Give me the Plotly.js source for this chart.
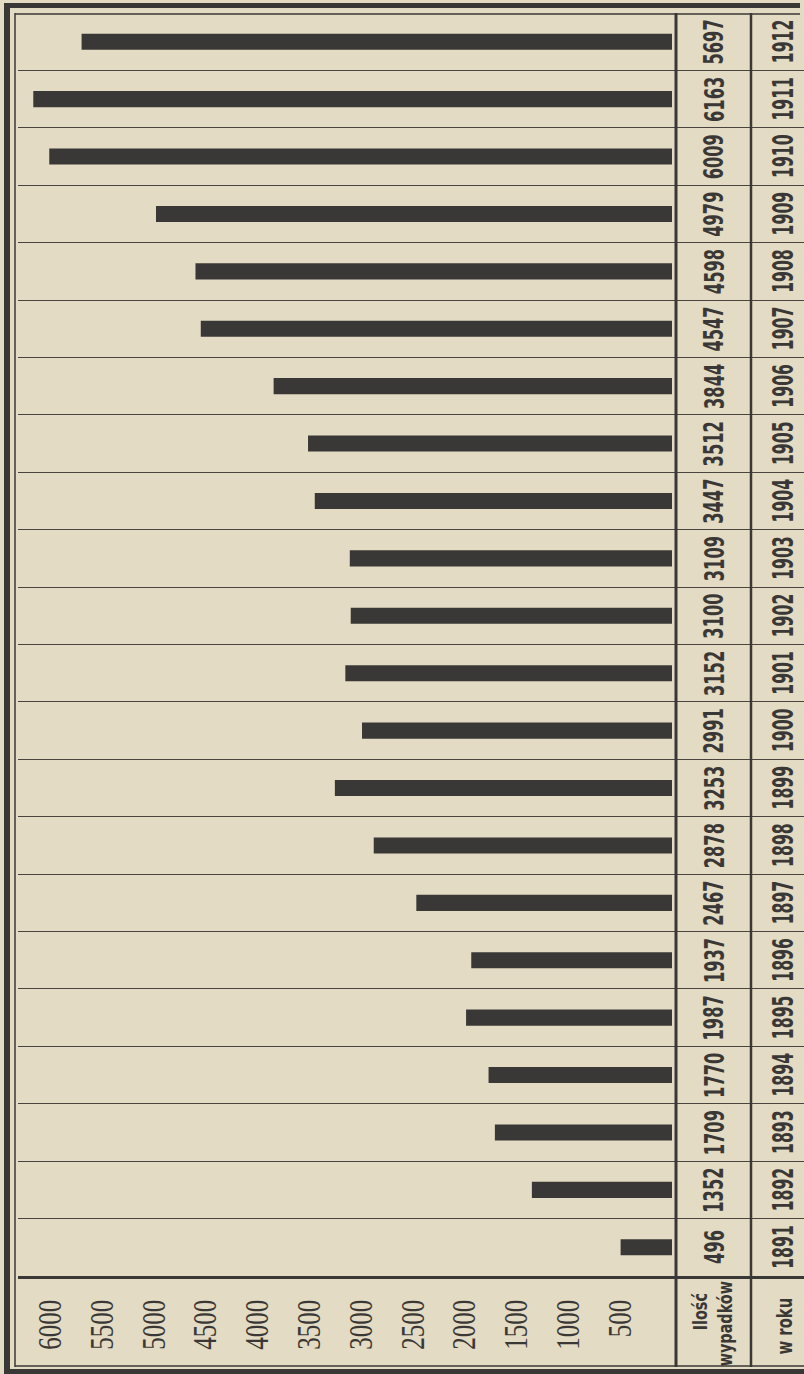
<!DOCTYPE html>
<html>
<head>
<meta charset="utf-8">
<script src="https://cdn.plot.ly/plotly-3.0.1.min.js"></script>
<style>html,body{margin:0;padding:0;background:#e4dcc4;}#chart{width:804px;height:1374px;}</style>
</head>
<body>
<div id="chart"></div>
<script>
// ---- data ----
const years = ['1891','1892','1893','1894','1895','1896','1897','1898','1899','1900','1901',
               '1902','1903','1904','1905','1906','1907','1908','1909','1910','1911','1912'];
const counts = [496,1352,1709,1770,1987,1937,2467,2878,3253,2991,3152,
                3100,3109,3447,3512,3844,4547,4598,4979,6009,6163,5697];
const tickValues = [500,1000,1500,2000,2500,3000,3500,4000,4500,5000,5500,6000];
const tickLabels = ['500','1000','1500','2000','2500','3000','3500','4000','4500','5000','5500','6000'];
const countHeader = ['Ilość', 'wypadków'];
const yearHeader = 'w roku';

// ---- layout geometry (pixels) ----
const W = 804, H = 1374;
const L = 18, R = 804, T = 13, B = 1276;
const px = x => (x - L) / (R - L);
const py = y => (B - y) / (B - T);
const zeroPx = 672, unitPx = 570 / 5500;
const xLeft = (zeroPx - L) / unitPx, xRight = -(R - zeroPx) / unitPx;

const ink = '#3a3836';
const paper = '#e3dbc3';
const narrow = '"DejaVu Sans Condensed", "Liberation Sans Narrow", sans-serif';

const trace = {
  type: 'bar', orientation: 'h',
  x: counts, y: years,
  marker: {color: ink, line: {width: 0}},
  hoverinfo: 'x+y'
};

const annotations = [];
const squeeze = [];   // horizontal compression of each annotation's text (condensed type)
function addNote(a, s) { annotations.push(a); squeeze.push(s); }
years.forEach((yr, i) => {
  addNote({xref: 'paper', yref: 'y', x: px(714), y: i, text: String(counts[i]),
    showarrow: false, textangle: -90, xanchor: 'center', yanchor: 'middle',
    font: {family: narrow, size: 27, color: ink, weight: 'bold'}}, 0.67);
  addNote({xref: 'paper', yref: 'y', x: px(783), y: i, text: yr,
    showarrow: false, textangle: -90, xanchor: 'center', yanchor: 'middle',
    font: {family: narrow, size: 29, color: ink, weight: 'bold'}}, 0.6);
});
addNote({xref: 'paper', yref: 'paper', x: px(700), y: py(1312), text: countHeader[0],
  showarrow: false, textangle: -90, xanchor: 'center', yanchor: 'middle',
  font: {family: narrow, size: 20, color: ink, weight: 'bold'}}, 0.8);
addNote({xref: 'paper', yref: 'paper', x: px(725), y: py(1324), text: countHeader[1],
  showarrow: false, textangle: -90, xanchor: 'center', yanchor: 'middle',
  font: {family: narrow, size: 20, color: ink, weight: 'bold'}}, 0.8);
addNote({xref: 'paper', yref: 'paper', x: px(784), y: py(1326), text: yearHeader,
  showarrow: false, textangle: -90, xanchor: 'center', yanchor: 'middle',
  font: {family: narrow, size: 22, color: ink, weight: 'bold'}}, 0.75);

function vline(x, y0, y1, w) {
  return {type: 'line', xref: 'paper', yref: 'paper', x0: px(x), x1: px(x), y0: py(y0), y1: py(y1),
          line: {color: ink, width: w}};
}
function hline(y, x0, x1, w) {
  return {type: 'line', xref: 'paper', yref: 'paper', x0: px(x0), x1: px(x1), y0: py(y), y1: py(y),
          line: {color: ink, width: w}};
}
const shapes = [
  vline(7, 3, 1374, 6),
  vline(15, 13, 1367, 1.5),
  hline(5.5, 4, 800, 5),
  hline(14, 15, 800, 1.5),
  hline(1366, 15, 804, 1.5),
  hline(1371.5, 4, 804, 5),
  vline(676, 13, 1367, 3),
  vline(751, 13, 1367, 2.5)
];

const layout = {
  width: W, height: H,
  margin: {l: L, r: W - R, t: T, b: H - B, pad: 0},
  paper_bgcolor: paper, plot_bgcolor: paper,
  showlegend: false,
  bargap: 0.72,
  xaxis: {
    range: [xLeft, xRight], fixedrange: true,
    tickmode: 'array', tickvals: tickValues, ticktext: tickLabels,
    tickangle: -90, ticks: '', ticklabelstandoff: 8,
    tickfont: {family: '"Liberation Serif", "DejaVu Serif", serif', size: 33, color: ink},
    showgrid: false, zeroline: false,
    showline: true, linecolor: ink, linewidth: 2.5
  },
  yaxis: {
    type: 'category', categoryorder: 'array', categoryarray: years,
    range: [-0.5, years.length - 0.5], fixedrange: true,
    tickson: 'boundaries', ticks: '', showticklabels: false,
    showgrid: true, gridcolor: '#4a4440', gridwidth: 1,
    zeroline: false, showline: false
  },
  annotations: annotations,
  shapes: shapes
};

// compress text along its reading direction to imitate the condensed print type
function condense(el, s, anchorEnd) {
  const bb = el.getBBox();
  const cx = anchorEnd ? bb.x + bb.width : bb.x + bb.width / 2;
  const prev = el.getAttribute('transform') || '';
  el.setAttribute('transform', prev + ' translate(' + cx + ',0) scale(' + s + ',1) translate(' + (-cx) + ',0)');
}

Plotly.newPlot('chart', [trace], layout, {staticPlot: true, displayModeBar: false}).then(gd => {
  gd.querySelectorAll('.annotation').forEach(g => {
    const idx = +g.getAttribute('data-index');
    const t = g.querySelector('text');
    if (t && squeeze[idx]) condense(t, squeeze[idx], false);
  });
  gd.querySelectorAll('.xtick text').forEach(t => condense(t, 0.76, true));
});
</script>
</body>
</html>
